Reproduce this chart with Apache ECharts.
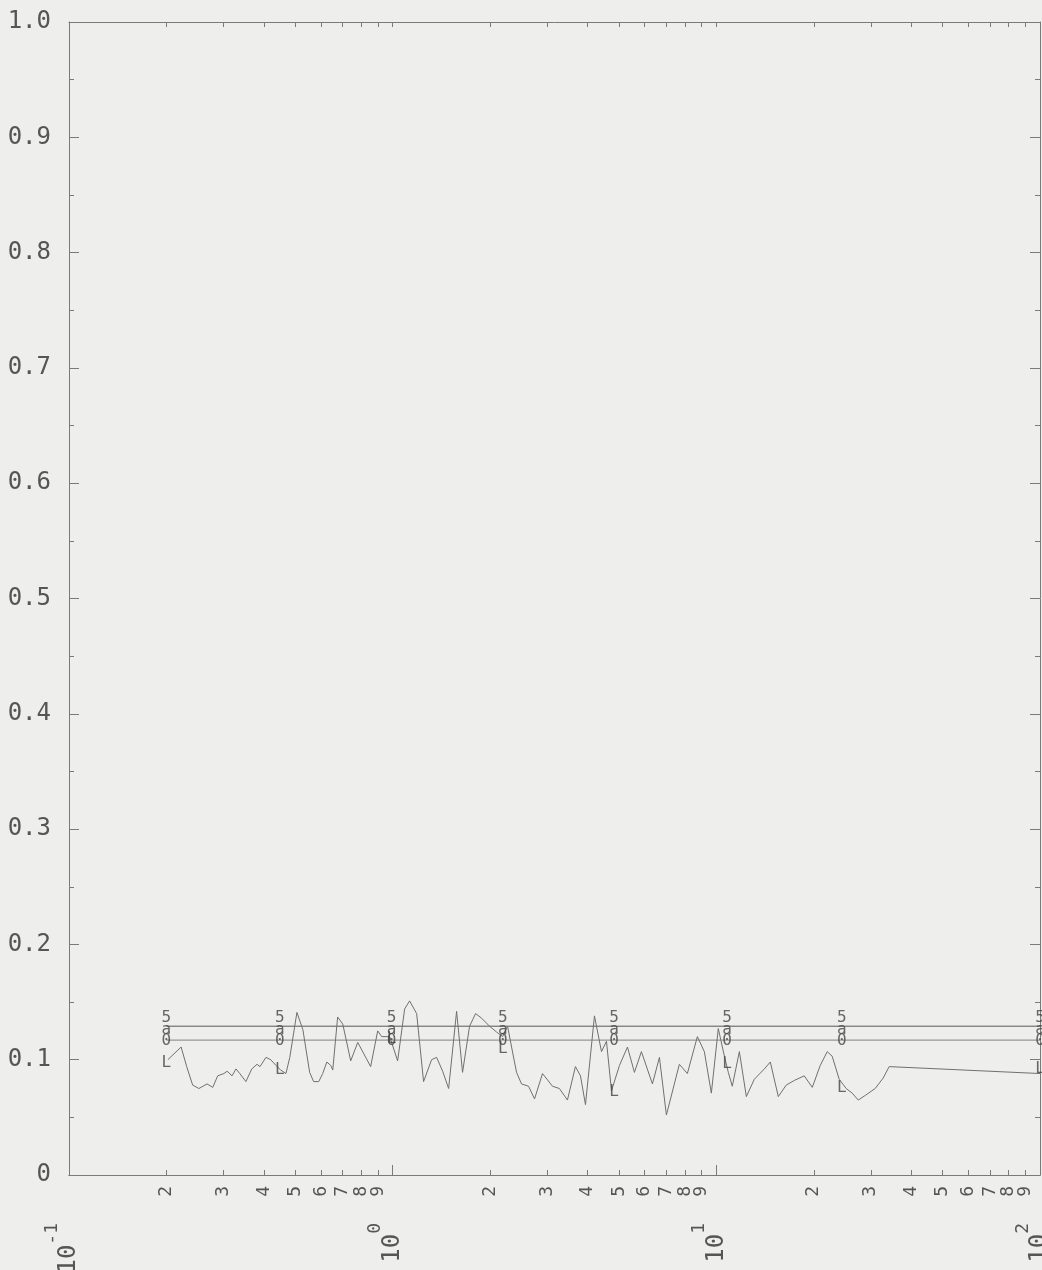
<!DOCTYPE html>
<html><head><meta charset="utf-8">
<script src="https://cdn.jsdelivr.net/npm/echarts@6/dist/echarts.min.js"></script>
<style>html,body{margin:0;padding:0;background:#eeeeec;} #c{width:1042px;height:1270px;}</style>
</head><body><div id="c"></div>
<script>
// ---- data (x in real units, log axis drawn via log10) ----
const minorDigits = [2, 3, 4, 5, 6, 7, 8, 9];
const decadeExponents = [-1, 0, 1, 2];
const yTickValues = [0, 0.1, 0.2, 0.3, 0.4, 0.5, 0.6, 0.7, 0.8, 0.9, 1.0];
const yTickLabels = ['0', '0.1', '0.2', '0.3', '0.4', '0.5', '0.6', '0.7', '0.8', '0.9', '1.0'];

const curveX = [0.202,0.222,0.231,0.241,0.252,0.267,0.278,0.288,0.301,0.308,0.319,0.328,0.337,0.352,0.367,0.381,0.389,0.406,0.420,0.436,0.451,0.468,0.481,0.506,0.528,0.554,0.570,0.591,0.608,0.626,0.644,0.653,0.676,0.701,0.742,0.780,0.855,0.899,0.925,0.979,1.036,1.089,1.128,1.186,1.246,1.319,1.367,1.427,1.489,1.576,1.644,1.728,1.804,1.883,1.993,2.094,2.186,2.265,2.330,2.414,2.501,2.629,2.744,2.904,3.117,3.275,3.467,3.670,3.804,3.942,4.202,4.417,4.577,4.743,5.020,5.314,5.584,5.868,6.346,6.671,7.010,7.688,8.138,8.738,9.183,9.652,10.14,10.59,10.89,11.20,11.78,12.38,13.10,14.07,14.68,15.54,16.44,17.41,18.69,19.79,20.94,22.01,22.80,23.97,25.19,26.29,27.44,28.84,30.95,32.76,34.20,100];
const curveL = [0.100,0.111,0.094,0.078,0.075,0.079,0.076,0.086,0.088,0.090,0.086,0.092,0.088,0.081,0.092,0.096,0.094,0.102,0.100,0.095,0.091,0.088,0.102,0.141,0.126,0.089,0.081,0.081,0.088,0.098,0.095,0.091,0.137,0.131,0.099,0.115,0.094,0.125,0.120,0.120,0.099,0.144,0.151,0.140,0.081,0.100,0.102,0.090,0.075,0.142,0.089,0.129,0.140,0.136,0.129,0.124,0.120,0.129,0.111,0.089,0.079,0.077,0.066,0.088,0.077,0.075,0.065,0.094,0.086,0.061,0.138,0.107,0.116,0.073,0.095,0.111,0.089,0.107,0.079,0.102,0.052,0.096,0.088,0.120,0.107,0.071,0.127,0.103,0.089,0.077,0.107,0.068,0.083,0.092,0.098,0.068,0.078,0.082,0.086,0.076,0.095,0.107,0.103,0.083,0.075,0.071,0.065,0.069,0.075,0.084,0.094,0.088];

const markerX = [0.2, 0.448, 0.993, 2.19, 4.83, 10.8, 24.4, 100];
const lineS = [0.129, 0.129, 0.129, 0.129, 0.129, 0.129, 0.129, 0.129];
const lineA = [0.129, 0.129, 0.129, 0.129, 0.129, 0.129, 0.129, 0.129];
const lineO = [0.117, 0.117, 0.117, 0.117, 0.117, 0.117, 0.117, 0.117];
const markerL = [0.097, 0.091, 0.118, 0.109, 0.072, 0.096, 0.076, 0.092];

// ---- build ----
const lg = v => Math.log10(v);
const pairs = (xs, ys) => xs.map((x, i) => [lg(x), ys[i]]);
const digitTicks = [];
for (let k = -1; k <= 1; k++) minorDigits.forEach(d => digitTicks.push(lg(d) + k));
const lastDigitTick = [digitTicks[digitTicks.length - 1]];
const decadeTicks = decadeExponents.slice();
const allTicks = digitTicks.concat(decadeTicks);

const INK = '#555555';
const AX = '#7a7a7a';
const MONO = '"DejaVu Sans Mono", "Liberation Mono", monospace';
const digitFmt = v => String(Math.round(Math.pow(10, v - Math.floor(v + 1e-9))));

function glyphSeries(name, ys, ch, offset) {
  return {
    type: 'scatter', name: name, data: pairs(markerX, ys),
    symbol: 'circle', symbolSize: 0.1, itemStyle: { color: 'rgba(0,0,0,0)' },
    silent: true, z: 5,
    label: { show: true, position: 'inside', offset: offset, formatter: ch,
      color: '#444444', fontSize: 16, fontFamily: MONO }
  };
}
function digitAxis(values, showMax) {
  return { type: 'value', min: -1, max: 2, position: 'bottom',
    axisLine: { show: true, onZero: false, lineStyle: { color: AX, width: 1 } },
    axisTick: { show: true, inside: true, length: 5, customValues: values, lineStyle: { color: AX } },
    axisLabel: { customValues: values, rotate: 90, margin: 11, color: INK, fontSize: 18,
      fontFamily: MONO, hideOverlap: false, showMinLabel: true, showMaxLabel: showMax,
      formatter: digitFmt },
    splitLine: { show: false } };
}

const chart = echarts.init(document.getElementById('c'), null, { renderer: 'canvas' });
chart.setOption({
  backgroundColor: '#eeeeec',
  animation: false,
  grid: { left: 69, right: 2, top: 22, bottom: 95, containLabel: false, outerBoundsMode: 'none' },
  xAxis: [
    digitAxis(digitTicks, false),
    { type: 'value', min: -1, max: 2, position: 'bottom',
      axisLine: { show: false },
      axisTick: { show: true, inside: true, length: 10, customValues: decadeTicks, lineStyle: { color: AX } },
      axisLabel: { customValues: decadeTicks, rotate: 90, margin: 48, color: INK,
        hideOverlap: false, showMinLabel: true, showMaxLabel: true,
        formatter: v => '{b|10}{s|' + Math.round(v) + '}',
        rich: {
          b: { fontSize: 24, fontFamily: MONO, color: INK },
          s: { fontSize: 18, fontFamily: MONO, color: INK, padding: [0, 0, 34, 0] }
        } },
      splitLine: { show: false } },
    { type: 'value', min: -1, max: 2, position: 'top',
      axisLine: { show: true, onZero: false, lineStyle: { color: AX, width: 1 } },
      axisTick: { show: true, inside: true, length: 5, customValues: allTicks, lineStyle: { color: AX } },
      axisLabel: { show: false }, splitLine: { show: false } },
    digitAxis(lastDigitTick, true)
  ],
  yAxis: [
    { type: 'value', min: 0, max: 1, interval: 0.1, position: 'left',
      axisLine: { show: true, onZero: false, lineStyle: { color: AX, width: 1 } },
      axisTick: { show: true, inside: true, length: 10, lineStyle: { color: AX } },
      minorTick: { show: true, splitNumber: 2, length: 5, lineStyle: { color: AX } },
      axisLabel: { margin: 18, color: INK, fontSize: 24, fontFamily: MONO,
        formatter: v => { const i = yTickValues.findIndex(t => Math.abs(t - v) < 1e-6); return i >= 0 ? yTickLabels[i] : ''; } },
      splitLine: { show: false } },
    { type: 'value', min: 0, max: 1, interval: 0.1, position: 'right',
      axisLine: { show: true, onZero: false, lineStyle: { color: AX, width: 1 } },
      axisTick: { show: true, inside: true, length: 10, lineStyle: { color: AX } },
      minorTick: { show: true, splitNumber: 2, length: 5, lineStyle: { color: AX } },
      axisLabel: { show: false }, splitLine: { show: false } }
  ],
  series: [
    { type: 'line', name: 'S', data: pairs(markerX, lineS), symbol: 'none', silent: true,
      lineStyle: { color: '#808080', width: 1 } },
    { type: 'line', name: 'a', data: pairs(markerX, lineA), symbol: 'none', silent: true,
      lineStyle: { color: '#808080', width: 1 } },
    { type: 'line', name: 'O', data: pairs(markerX, lineO), symbol: 'none', silent: true,
      lineStyle: { color: '#808080', width: 1 } },
    { type: 'line', name: 'L', data: pairs(curveX, curveL), symbol: 'none', silent: true,
      lineStyle: { color: '#707070', width: 1 } },
    glyphSeries('S-glyph', lineS, '5', [0, -8]),
    glyphSeries('a-glyph', lineA, 'a', [0, 4]),
    glyphSeries('O-glyph', lineO, '0', [0, 1]),
    glyphSeries('L-glyph', markerL, 'L', [0, 0])
  ]
});
</script></body></html>
